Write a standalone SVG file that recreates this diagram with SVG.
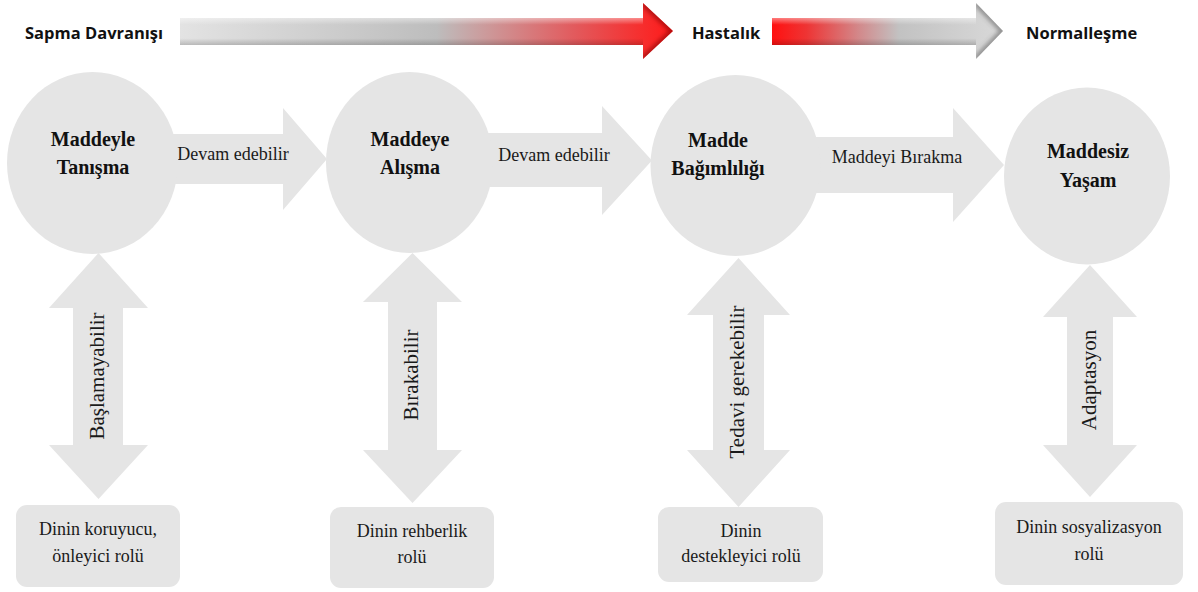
<svg xmlns="http://www.w3.org/2000/svg" width="1198" height="592" viewBox="0 0 1198 592">
  <style>
    .shape { fill: #e5e5e5; }
    .phase { font-family: "Open Sans", "Liberation Sans", sans-serif; font-weight: 700; font-size: 16.5px; fill: #111; }
    .title { font-family: "Liberation Serif", "Times New Roman", serif; font-weight: 700; font-size: 20px; fill: #111; text-anchor: middle; }
    .label { font-family: "Liberation Serif", "Times New Roman", serif; font-size: 18px; fill: #1a1a1a; text-anchor: middle; }
    .vlabel { font-family: "Liberation Serif", "Times New Roman", serif; font-size: 21px; fill: #1a1a1a; text-anchor: middle; }
  </style>
  <defs>
    <linearGradient id="toIllness" gradientUnits="userSpaceOnUse" x1="180" y1="0" x2="673" y2="0">
      <stop offset="0" stop-color="#e3e3e3"/>
      <stop offset="0.52" stop-color="#bdbdbd"/>
      <stop offset="0.62" stop-color="#cc9a9b"/>
      <stop offset="0.8" stop-color="#e25a5d"/>
      <stop offset="0.93" stop-color="#f53030"/>
      <stop offset="1" stop-color="#ff1a1a"/>
    </linearGradient>
    <linearGradient id="toNormal" gradientUnits="userSpaceOnUse" x1="772" y1="0" x2="1003" y2="0">
      <stop offset="0" stop-color="#ff1010"/>
      <stop offset="0.15" stop-color="#ee3434"/>
      <stop offset="0.38" stop-color="#d28a8c"/>
      <stop offset="0.55" stop-color="#c2c2c2"/>
      <stop offset="1" stop-color="#d9d9d9"/>
    </linearGradient>
    <linearGradient id="bevel" x1="0" y1="0" x2="0" y2="1">
      <stop offset="0" stop-color="#fff" stop-opacity="0.45"/>
      <stop offset="0.25" stop-color="#fff" stop-opacity="0"/>
      <stop offset="0.75" stop-color="#000" stop-opacity="0"/>
      <stop offset="1" stop-color="#000" stop-opacity="0.18"/>
    </linearGradient>
    <filter id="soft" x="-20%" y="-20%" width="140%" height="140%">
      <feGaussianBlur stdDeviation="2"/>
    </filter>
    <clipPath id="headA"><path d="M643,3 L673,31 L643,59 Z"/></clipPath>
    <clipPath id="headB"><path d="M976,3 L1003,31 L976,59 Z"/></clipPath>
  </defs>

  <!-- phase bar -->
  <g id="phases">
    <text class="phase" x="25" y="39">Sapma Davranışı</text>
    <path d="M180,18 L643,18 L643,3 L673,31 L643,59 L643,45 L180,45 Z" fill="url(#toIllness)"/>
    <rect x="180" y="18" width="463" height="27" fill="url(#bevel)"/>
    <g clip-path="url(#headA)">
      <path d="M643,3 L673,31 L643,59" fill="none" stroke="#7a0000" stroke-opacity="0.55" stroke-width="6" filter="url(#soft)"/>
    </g>
    <text class="phase" x="692" y="39">Hastalık</text>
    <path d="M772,18 L976,18 L976,3 L1003,31 L976,59 L976,45 L772,45 Z" fill="url(#toNormal)"/>
    <rect x="772" y="18" width="204" height="27" fill="url(#bevel)"/>
    <g clip-path="url(#headB)">
      <path d="M976,3 L1003,31 L976,59" fill="none" stroke="#555" stroke-opacity="0.55" stroke-width="6" filter="url(#soft)"/>
    </g>
    <text class="phase" x="1026" y="39">Normalleşme</text>
  </g>

  <!-- connectors -->
  <g id="connectors">
    <g id="flow-1">
      <path class="shape" d="M150,134 L283,134 L283,108 L327,159 L283,210 L283,184 L150,184 Z"/>
      <text class="label" x="233" y="160">Devam edebilir</text>
    </g>
    <g id="flow-2">
      <path class="shape" d="M470,133 L602,133 L602,106 L652,160.5 L602,215 L602,187 L470,187 Z"/>
      <text class="label" x="554" y="161">Devam edebilir</text>
    </g>
    <g id="flow-3">
      <path class="shape" d="M800,137 L953,137 L953,108 L1004,165 L953,222 L953,193 L800,193 Z"/>
      <text class="label" x="897" y="163">Maddeyi Bırakma</text>
    </g>
    <g id="link-1">
      <path class="shape" d="M98.5,253 L148,308 L123,308 L123,445 L148,445 L98.5,499 L49,445 L73,445 L73,308 L49,308 Z"/>
      <text class="vlabel" x="104" y="376" transform="rotate(-90 104 376)">Başlamayabilir</text>
    </g>
    <g id="link-2">
      <path class="shape" d="M412.5,253 L462,302 L437,302 L437,450 L462,450 L412.5,503 L363,450 L388,450 L388,302 L363,302 Z"/>
      <text class="vlabel" x="418" y="375" transform="rotate(-90 418 375)">Bırakabilir</text>
    </g>
    <g id="link-3">
      <path class="shape" d="M738.5,258 L790,315 L764,315 L764,450 L790,450 L738.5,507 L687,450 L713,450 L713,315 L687,315 Z"/>
      <text class="vlabel" x="744" y="382" transform="rotate(-90 744 382)">Tedavi gerekebilir</text>
    </g>
    <g id="link-4">
      <path class="shape" d="M1090,265 L1137,317 L1113,317 L1113,445 L1137,445 L1090,497 L1043,445 L1067,445 L1067,317 L1043,317 Z"/>
      <text class="vlabel" x="1096" y="380" transform="rotate(-90 1096 380)">Adaptasyon</text>
    </g>
  </g>

  <!-- stages -->
  <g id="stage-1">
    <ellipse class="shape" cx="92.5" cy="163" rx="85.5" ry="91"/>
    <text class="title" x="93" y="146">Maddeyle</text>
    <text class="title" x="93" y="174">Tanışma</text>
  </g>
  <g id="stage-2">
    <ellipse class="shape" cx="409.5" cy="162.5" rx="83.5" ry="90.5"/>
    <text class="title" x="410" y="146">Maddeye</text>
    <text class="title" x="410" y="174">Alışma</text>
  </g>
  <g id="stage-3">
    <ellipse class="shape" cx="735.5" cy="165.5" rx="85" ry="90.5"/>
    <text class="title" x="718" y="147">Madde</text>
    <text class="title" x="718" y="175">Bağımlılığı</text>
  </g>
  <g id="stage-4">
    <ellipse class="shape" cx="1087" cy="176" rx="83" ry="88.5"/>
    <text class="title" x="1088" y="158">Maddesiz</text>
    <text class="title" x="1088" y="187">Yaşam</text>
  </g>

  <!-- roles of religion -->
  <g id="role-1">
    <rect class="shape" x="16" y="505" width="164" height="82" rx="11"/>
    <text class="label" x="98" y="535">Dinin koruyucu,</text>
    <text class="label" x="98" y="562">önleyici rolü</text>
  </g>
  <g id="role-2">
    <rect class="shape" x="330" y="507" width="164" height="81" rx="11"/>
    <text class="label" x="412" y="537">Dinin rehberlik</text>
    <text class="label" x="412" y="563">rolü</text>
  </g>
  <g id="role-3">
    <rect class="shape" x="658" y="507" width="165" height="75" rx="11"/>
    <text class="label" x="741" y="537">Dinin</text>
    <text class="label" x="741" y="562">destekleyici rolü</text>
  </g>
  <g id="role-4">
    <rect class="shape" x="995" y="502" width="188" height="83" rx="11"/>
    <text class="label" x="1089" y="533">Dinin sosyalizasyon</text>
    <text class="label" x="1089" y="560">rolü</text>
  </g>
</svg>
